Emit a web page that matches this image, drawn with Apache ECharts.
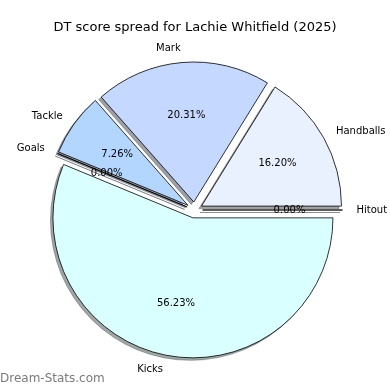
<!DOCTYPE html>
<html><head><meta charset="utf-8">
<script src="https://cdn.jsdelivr.net/npm/echarts@6/dist/echarts.min.js"></script>
<style>html,body{margin:0;padding:0;background:#fff}#c{width:390px;height:390px}</style>
</head><body><div id="c"></div>
<script>
const categories = ['Hitout', 'Handballs', 'Mark', 'Tackle', 'Goals', 'Kicks'];
const values = [0.00, 16.20, 20.31, 7.26, 0.00, 56.23];
const colors = ['#f0f8ff', '#eaf1fe', '#c5d8ff', '#b3d6ff', '#b0d0ff', '#d9ffff'];
const titleText = 'DT score spread for Lachie Whitfield (2025)';

const R = 140, OFF = 8;
const center = [194.5, 210];
const shadowCenter = [center[0] - 2.5, center[1] + 2.5];
const font = 'DejaVu Sans, sans-serif';

function shade(hex) {
  const n = parseInt(hex.slice(1), 16);
  const r = Math.round(((n >> 16) & 255) * 0.3), g = Math.round(((n >> 8) & 255) * 0.3), b = Math.round((n & 255) * 0.3);
  return 'rgba(' + r + ',' + g + ',' + b + ',0.5)';
}

const chart = echarts.init(document.getElementById('c'), null, { renderer: 'canvas' });
chart.setOption({
  animation: false,
  title: { text: titleText, left: 'center', top: 16, textStyle: { fontFamily: font, fontSize: 13, fontWeight: 'normal', color: '#000' } },
  graphic: [{ type: 'text', left: 0, top: 373, style: { text: 'Dream-Stats.com', fill: '#7a7a7a', font: '12px DejaVu Sans, sans-serif' } }],
  series: [
    {
      type: 'pie', center: shadowCenter, radius: [0, R], startAngle: 0, clockwise: false,
      selectedMode: 'multiple', selectedOffset: OFF, avoidLabelOverlap: false, silent: true,
      minAngle: 0, z: 1,
      itemStyle: { borderWidth: 0.8 },
      label: { show: false }, labelLine: { show: false },
      data: categories.map((c, i) => ({ name: c, value: values[i], selected: true,
        itemStyle: { color: shade(colors[i]), borderColor: shade(colors[i]) },
        select: { itemStyle: { color: shade(colors[i]), borderColor: shade(colors[i]) } } }))
    },
    {
      type: 'pie', center: center, radius: [0, R], startAngle: 0, clockwise: false,
      selectedMode: 'multiple', selectedOffset: OFF, avoidLabelOverlap: false, silent: true,
      minAngle: 0, z: 2,
      itemStyle: { borderColor: '#000', borderWidth: 0.8 },
      label: { show: true, position: 'outside', formatter: '{b}', fontFamily: font, fontSize: 10, color: '#000', distanceToLabelLine: 0 },
      labelLine: { show: false, length: R * 0.1, length2: 0 },
      select: { itemStyle: { borderColor: '#000', borderWidth: 0.8 } },
      data: categories.map((c, i) => ({ name: c, value: values[i], selected: true,
        itemStyle: { color: colors[i] }, select: { itemStyle: { color: colors[i] } } }))
    },
    {
      type: 'pie', center: center, radius: [0, R * 1.2], startAngle: 0, clockwise: false,
      selectedMode: 'multiple', selectedOffset: OFF, avoidLabelOverlap: false, silent: true,
      minAngle: 0, z: 3,
      itemStyle: { color: 'rgba(0,0,0,0)', borderWidth: 0 },
      select: { itemStyle: { color: 'rgba(0,0,0,0)', borderWidth: 0 } },
      label: { show: true, position: 'inside', formatter: p => p.value.toFixed(2) + '%', fontFamily: font, fontSize: 10, color: '#000' },
      labelLine: { show: false },
      data: categories.map((c, i) => ({ name: c, value: values[i], selected: true }))
    }
  ]
});
</script></body></html>
